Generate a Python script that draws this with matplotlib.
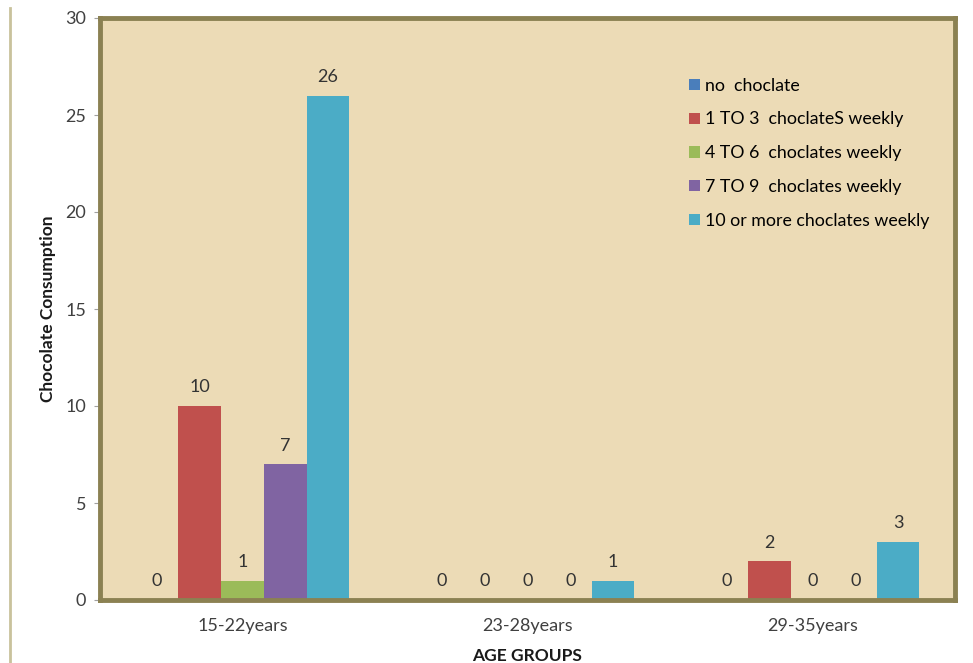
import numpy as np
import matplotlib.pyplot as plt
from matplotlib.lines import Line2D

plt.rcParams['font.family'] = ['Lato', 'DejaVu Sans']

age_groups = ['15-22years', '23-28years', '29-35years']
series_names = ['no  choclate', '1 TO 3  choclateS weekly', '4 TO 6  choclates weekly',
                '7 TO 9  choclates weekly', '10 or more choclates weekly']
no_choc = [0, 0, 0]
one_to_3 = [10, 0, 2]
four_to_6 = [1, 0, 0]
seven_to_9 = [7, 0, 0]
ten_plus = [26, 1, 3]
colors = ['#4a7ebb', '#c0504d', '#9bbb59', '#8064a2', '#4bacc6']

fig = plt.figure(figsize=(9.73, 6.63), dpi=100)
ax = fig.add_axes([100/973, 63/663, 855/973, 582/663])
ax.set_facecolor('#ecdbb6')

x = np.arange(len(age_groups))
width = 0.15
all_series = [no_choc, one_to_3, four_to_6, seven_to_9, ten_plus]
for i, (vals, name, c) in enumerate(zip(all_series, series_names, colors)):
    pos = x + (i - 2) * width
    bars = ax.bar(pos, vals, width, color=c, label=name, zorder=2)
    for b, v in zip(bars, vals):
        ax.text(b.get_x() + b.get_width()/2, v + 0.55, f'{v}', ha='center', va='bottom',
                fontsize=13, color='#333333')

ax.set_xlim(-0.5, 2.5)
ax.set_ylim(0, 30)
ax.set_yticks(range(0, 31, 5))
ax.set_xticks(x)
ax.set_xticklabels(age_groups)
ax.tick_params(axis='y', length=4, color='#a0a0a0', labelsize=13, labelcolor='#404040', pad=6)
ax.tick_params(axis='x', length=0, labelsize=13, labelcolor='#404040', pad=13)
for s in ax.spines.values():
    s.set_color('#8b8152')
    s.set_linewidth(3.5)

ax.set_xlabel('AGE GROUPS', fontweight='bold', fontsize=12.5, labelpad=10, color='#1a1a1a')
ax.set_ylabel('Chocolate Consumption', fontweight='bold', fontsize=12.5, labelpad=7, color='#1a1a1a')

ax.legend(loc='upper left', bbox_to_anchor=(0.67, 0.925), frameon=False, fontsize=12.8,
          handlelength=0.6, handleheight=0.6, handletextpad=0.3, labelspacing=1.0)

fig.add_artist(Line2D([10/973, 10/973], [0, 655/663], transform=fig.transFigure,
                      color='#c9c29c', linewidth=2))

fig.savefig('out.png', dpi=100)
